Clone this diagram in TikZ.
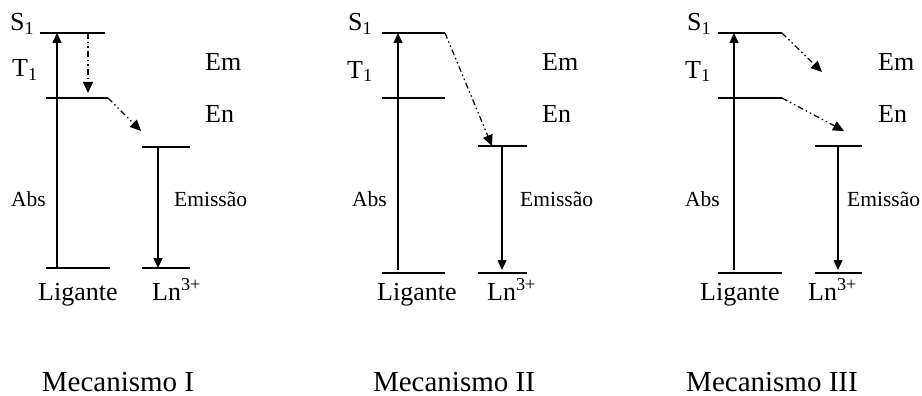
\documentclass[tikz,border=0pt]{standalone}
\usepackage{fontspec}
\setmainfont{Liberation Serif}
\usetikzlibrary{arrows.meta}
\tikzset{
  level/.style={line width=1.4pt},
  trans/.style={line width=1.4pt,-{Triangle[length=10pt,width=9pt]}},
  nrt/.style={line width=1.2pt,dash pattern=on 6pt off 3pt on 1.5pt off 3pt on 1.5pt off 3pt,-{Triangle[length=11pt,width=10pt]}},
  biglab/.style={font=\fontsize{26}{30}\selectfont,inner sep=0pt,anchor=base west},
  smalllab/.style={font=\fontsize{21.5}{25}\selectfont,inner sep=0pt,anchor=base west},
  mechtitle/.style={font=\fontsize{29}{33}\selectfont,inner sep=0pt,anchor=base},
}

\begin{document}
\begin{tikzpicture}[x=1pt,y=-1pt,line cap=butt]
\useasboundingbox (0,0) rectangle (922,396);

% Mecanismo I
\coordinate (IS1l) at (40,33);  \coordinate (IS1r) at (105,33);
\coordinate (IT1l) at (46,98);  \coordinate (IT1r) at (108,98);
\coordinate (ILgl) at (46,268); \coordinate (ILgr) at (110,268);
\coordinate (ILnl) at (142,147); \coordinate (ILnr) at (190,147);
\coordinate (ILbl) at (142,268); \coordinate (ILbr) at (190,268);
\coordinate (IAbsa) at (57,268); \coordinate (IAbsb) at (57,33);
\coordinate (IEma) at (158,147); \coordinate (IEmb) at (158,268);
\coordinate (IIsca) at (88,33); \coordinate (IIscb) at (88,93);
\coordinate (IEtb) at (141,131);
\draw[level] (IS1l) -- (IS1r);
\draw[level] (IT1l) -- (IT1r);
\draw[level] (ILgl) -- (ILgr);
\draw[level] (ILnl) -- (ILnr);
\draw[level] (ILbl) -- (ILbr);
\draw[trans] (IAbsa) -- (IAbsb);
\draw[trans] (IEma) -- (IEmb);
\draw[nrt] (IIsca) -- (IIscb);
\draw[nrt] (IT1r) -- (IEtb);
\node[biglab] (IS1) at (10,31) {S\textsubscript{1}};
\node[biglab] (IT1) at (12,77) {T\textsubscript{1}};
\node[biglab] (IEm) at (205,71) {Em};
\node[biglab] (IEn) at (205,123) {En};
\node[smalllab] (IAbs) at (11,206) {Abs};
\node[smalllab] (IEmi) at (174,206) {Emissão};
\node[biglab] (ILig) at (38,300) {Ligante};
\node[biglab] (ILn) at (152,300) {Ln\textsuperscript{3+}};
\node[mechtitle] (IMec) at (118,391) {Mecanismo I};

% Mecanismo II
\coordinate (IIS1l) at (382,33);  \coordinate (IIS1r) at (445,33);
\coordinate (IIT1l) at (382,98);  \coordinate (IIT1r) at (445,98);
\coordinate (IILgl) at (382,273); \coordinate (IILgr) at (445,273);
\coordinate (IILnl) at (478,146); \coordinate (IILnr) at (527,146);
\coordinate (IILbl) at (478,273); \coordinate (IILbr) at (527,273);
\coordinate (IIAbsa) at (398,270); \coordinate (IIAbsb) at (398,33);
\coordinate (IIEma) at (502,146); \coordinate (IIEmb) at (502,270);
\coordinate (IIEtb) at (492,146);
\draw[level] (IIS1l) -- (IIS1r);
\draw[level] (IIT1l) -- (IIT1r);
\draw[level] (IILgl) -- (IILgr);
\draw[level] (IILnl) -- (IILnr);
\draw[level] (IILbl) -- (IILbr);
\draw[trans] (IIAbsa) -- (IIAbsb);
\draw[trans] (IIEma) -- (IIEmb);
\draw[nrt] (IIS1r) -- (IIEtb);
\node[biglab] (IIS1) at (348,31) {S\textsubscript{1}};
\node[biglab] (IIT1) at (347,78) {T\textsubscript{1}};
\node[biglab] (IIEm) at (542,71) {Em};
\node[biglab] (IIEn) at (542,123) {En};
\node[smalllab] (IIAbs) at (352,206) {Abs};
\node[smalllab] (IIEmi) at (520,206) {Emissão};
\node[biglab] (IILig) at (377,300) {Ligante};
\node[biglab] (IILn) at (487,300) {Ln\textsuperscript{3+}};
\node[mechtitle] (IIMec) at (454,391) {Mecanismo II};

% Mecanismo III
\coordinate (IIIS1l) at (718,33);  \coordinate (IIIS1r) at (782,33);
\coordinate (IIIT1l) at (718,98);  \coordinate (IIIT1r) at (782,98);
\coordinate (IIILgl) at (718,273); \coordinate (IIILgr) at (782,273);
\coordinate (IIILnl) at (815,146); \coordinate (IIILnr) at (862,146);
\coordinate (IIILbl) at (815,273); \coordinate (IIILbr) at (862,273);
\coordinate (IIIAbsa) at (734,270); \coordinate (IIIAbsb) at (734,33);
\coordinate (IIIEma) at (838,146); \coordinate (IIIEmb) at (838,270);
\coordinate (IIIEsb) at (822,72);
\coordinate (IIIEtb) at (844,131);
\draw[level] (IIIS1l) -- (IIIS1r);
\draw[level] (IIIT1l) -- (IIIT1r);
\draw[level] (IIILgl) -- (IIILgr);
\draw[level] (IIILnl) -- (IIILnr);
\draw[level] (IIILbl) -- (IIILbr);
\draw[trans] (IIIAbsa) -- (IIIAbsb);
\draw[trans] (IIIEma) -- (IIIEmb);
\draw[nrt] (IIIS1r) -- (IIIEsb);
\draw[nrt] (IIIT1r) -- (IIIEtb);
\node[biglab] (IIIS1) at (687,31) {S\textsubscript{1}};
\node[biglab] (IIIT1) at (685,78) {T\textsubscript{1}};
\node[biglab] (IIIEm) at (878,71) {Em};
\node[biglab] (IIIEn) at (878,123) {En};
\node[smalllab] (IIIAbs) at (685,206) {Abs};
\node[smalllab] (IIIEmi) at (847,206) {Emissão};
\node[biglab] (IIILig) at (700,300) {Ligante};
\node[biglab] (IIILn) at (808,300) {Ln\textsuperscript{3+}};
\node[mechtitle] (IIIMec) at (772,391) {Mecanismo III};
\end{tikzpicture}
\end{document}
